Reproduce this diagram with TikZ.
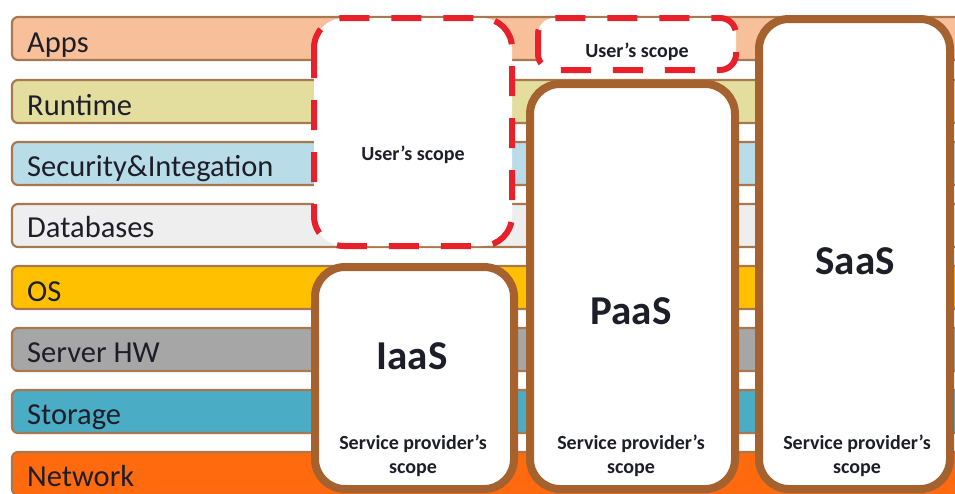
\documentclass[tikz,border=0pt]{standalone}
\usepackage{fontspec}
\setmainfont{Carlito}
\definecolor{barline}{HTML}{A87850}
\definecolor{boxline}{HTML}{A5622F}
\definecolor{scopered}{HTML}{E8202A}
\definecolor{txt}{HTML}{1E1E28}
\definecolor{cApps}{HTML}{F8C09A}
\definecolor{cRun}{HTML}{E4DE9E}
\definecolor{cSec}{HTML}{B8DCE8}
\definecolor{cDb}{HTML}{EEEEEE}
\definecolor{cOS}{HTML}{FFC000}
\definecolor{cHW}{HTML}{A6A6A6}
\definecolor{cSto}{HTML}{4BACC6}
\definecolor{cNet}{HTML}{FF6A0E}
\tikzset{
  layerbar/.style={draw=barline, line width=2.2pt, rounded corners=6pt},
  layertext/.style={anchor=base west, text=txt, font=\fontsize{30.5}{30}\selectfont, inner sep=0pt},
  userbox/.style={draw=scopered, line width=6pt, dash pattern=on 30pt off 22pt, fill=white},
  provbox/.style={draw=boxline, line width=8pt, fill=white},
  bigname/.style={anchor=base, text=txt, font=\bfseries\fontsize{41}{41}\selectfont, inner sep=0pt},
  scopetext/.style={anchor=base, text=txt, font=\bfseries\fontsize{20}{24}\selectfont, inner sep=0pt},
}
\begin{document}
\begin{tikzpicture}[x=1pt, y=-1pt]
\useasboundingbox (0,0) rectangle (955,493);
\clip (0,0) rectangle (955,493);
\fill[white] (0,0) rectangle (955,493);

% stack of layers
\foreach \c/\y in {cApps/17, cRun/80, cSec/142, cDb/204, cOS/266, cHW/328, cSto/390, cNet/452} {
  \draw[layerbar, fill=\c] (12,\y) rectangle (975,\y+43);
}
\node[layertext] (lApps) at (27,52) {Apps};
\node[layertext] (lRun)  at (27,115) {Runtime};
\node[layertext] (lSec)  at (27,176) {Security\&Integation};
\node[layertext] (lDb)   at (27,237) {Databases};
\node[layertext] (lOS)   at (27,301) {OS};
\node[layertext] (lHW)   at (27,362) {Server HW};
\node[layertext] (lSto)  at (27,424) {Storage};
\node[layertext] (lNet)  at (27,486) {Network};

% user's scopes (dashed)
\draw[userbox, rounded corners=30pt] (314,18) rectangle (512,246);
\node[scopetext] (us1) at (413,160) {User’s scope};
\draw[userbox, rounded corners=16pt] (538,18) rectangle (736,70);
\node[scopetext] (us2) at (637,57) {User’s scope};

% provider scopes
\draw[provbox, rounded corners=30pt] (315,267) rectangle (514,489);
\draw[provbox, rounded corners=30pt] (530,84) rectangle (735,489);
\draw[provbox, rounded corners=30pt] (759,19) rectangle (950,489);

\node[bigname] (iaas) at (412,369) {IaaS};
\node[bigname] (paas) at (631,324) {PaaS};
\node[bigname] (saas) at (855,274) {SaaS};

\foreach \n/\x in {sp1/413, sp2/631, sp3/857} {
  \node[scopetext] (\n a) at (\x,449) {Service provider’s};
  \node[scopetext] (\n b) at (\x,473) {scope};
}
\end{tikzpicture}
\end{document}
